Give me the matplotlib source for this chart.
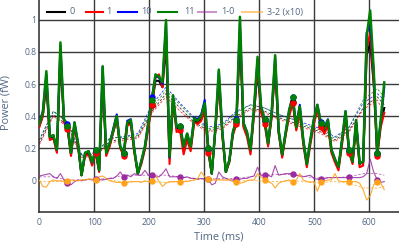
import numpy as np
import matplotlib
matplotlib.use("Agg")
import matplotlib.pyplot as plt
import matplotlib.lines as mlines

plt.rcParams['font.family'] = ['Open Sans', 'DejaVu Sans']

dt_ms = 6.4
marker_every = 8

green = [0.35,0.42,0.68,0.27,0.28,0.19,0.86,0.38,0.34,0.17,
         0.36,0.23,0.03,0.17,0.18,0.11,0.19,0.06,0.71,0.17,
         0.23,0.31,0.40,0.21,0.17,0.36,0.375,0.19,0.04,0.12,
         0.21,0.36,0.50,0.66,0.645,0.61,1.00,0.146,0.53,0.33,
         0.34,0.21,0.29,0.21,0.385,0.37,0.40,0.48,0.20,0.04,
         0.32,0.69,0.30,0.05,0.125,0.30,0.375,1.02,0.355,0.30,
         0.19,0.45,0.77,0.46,0.38,0.23,0.42,0.78,0.31,0.16,
         0.30,0.44,0.52,0.33,0.46,0.25,0.10,0.25,0.38,0.47,
         0.355,0.32,0.375,0.19,0.13,0.083,0.25,0.43,0.19,0.115,
         0.375,0.105,0.115,0.90,1.06,0.69,0.17,0.375,0.61]

red = [0.33,0.40,0.63,0.25,0.26,0.17,0.80,0.36,0.32,0.15,
       0.34,0.21,0.03,0.15,0.16,0.09,0.17,0.05,0.66,0.15,
       0.21,0.30,0.38,0.20,0.15,0.34,0.35,0.17,0.04,0.10,
       0.19,0.33,0.47,0.64,0.66,0.58,0.92,0.10,0.49,0.30,
       0.31,0.16,0.25,0.18,0.36,0.35,0.37,0.44,0.17,0.04,
       0.30,0.63,0.27,0.05,0.11,0.28,0.35,0.92,0.33,0.27,
       0.16,0.41,0.71,0.42,0.35,0.21,0.39,0.72,0.29,0.14,
       0.28,0.40,0.48,0.31,0.42,0.22,0.08,0.22,0.35,0.44,
       0.33,0.29,0.34,0.17,0.11,0.06,0.22,0.40,0.17,0.10,
       0.34,0.08,0.09,0.82,0.92,0.62,0.15,0.33,0.42]

black = [0.34,0.40,0.60,0.26,0.27,0.18,0.76,0.37,0.33,0.16,
         0.35,0.22,0.03,0.16,0.17,0.10,0.18,0.06,0.62,0.16,
         0.22,0.30,0.38,0.20,0.16,0.35,0.36,0.18,0.04,0.11,
         0.20,0.34,0.47,0.62,0.62,0.58,0.86,0.14,0.50,0.32,
         0.33,0.20,0.28,0.20,0.37,0.36,0.38,0.44,0.19,0.04,
         0.31,0.62,0.29,0.05,0.12,0.29,0.36,0.88,0.34,0.29,
         0.18,0.42,0.68,0.44,0.37,0.22,0.40,0.70,0.30,0.15,
         0.29,0.42,0.49,0.32,0.43,0.24,0.10,0.24,0.36,0.45,
         0.34,0.31,0.36,0.18,0.12,0.08,0.24,0.41,0.18,0.11,
         0.36,0.10,0.11,0.78,0.86,0.60,0.16,0.35,0.45]

blue = [0.36,0.43,0.66,0.27,0.28,0.19,0.84,0.38,0.35,0.17,
        0.36,0.23,0.03,0.17,0.18,0.11,0.19,0.06,0.71,0.17,
        0.23,0.32,0.41,0.21,0.17,0.37,0.38,0.19,0.04,0.12,
        0.21,0.37,0.52,0.65,0.64,0.60,0.98,0.14,0.52,0.33,
        0.34,0.21,0.29,0.21,0.39,0.38,0.41,0.50,0.20,0.04,
        0.32,0.68,0.30,0.05,0.125,0.30,0.38,0.98,0.36,0.30,
        0.19,0.45,0.75,0.46,0.38,0.23,0.42,0.77,0.31,0.16,
        0.30,0.44,0.52,0.34,0.47,0.25,0.10,0.25,0.38,0.47,
        0.36,0.33,0.38,0.19,0.13,0.083,0.25,0.43,0.19,0.115,
        0.37,0.105,0.115,0.92,0.97,0.68,0.17,0.37,0.58]

diff_10 = [0.025,0.03,0.035,0.04,0.02,0.01,0.04,0.0,-0.02,-0.03,
           -0.01,0.0,-0.005,0.0,0.005,0.0,0.005,0.003,0.0,0.005,
           0.01,0.01,0.025,0.05,0.02,0.03,0.02,0.04,0.03,0.03,
           0.06,0.03,0.03,0.02,0.02,0.04,0.07,0.02,0.02,0.02,
           0.02,0.015,0.02,0.01,0.01,0.005,0.01,0.005,0.005,-0.03,
           -0.02,0.05,0.02,0.01,0.0,0.0,0.005,0.005,0.01,0.01,
           0.02,0.025,0.08,0.03,0.03,0.03,0.02,0.09,0.03,0.035,
           0.04,0.04,0.04,0.03,0.025,0.02,0.025,0.03,0.01,0.005,
           0.005,0.01,0.015,0.015,0.015,0.015,0.015,0.015,0.02,0.015,
           0.015,0.015,0.02,0.04,0.13,0.05,0.0,-0.015,-0.01]

diff_32_x10 = [0.0,-0.04,-0.045,-0.01,0.0,-0.005,-0.005,-0.01,-0.005,0.0,
               -0.005,-0.005,0.0,0.0,0.005,0.005,0.0,0.02,0.025,0.01,
               -0.005,-0.01,-0.015,-0.015,-0.02,-0.015,-0.01,-0.01,-0.01,-0.015,
               -0.005,-0.01,-0.005,0.03,-0.01,-0.04,-0.02,-0.01,-0.01,-0.01,
               -0.01,-0.01,-0.01,-0.005,0.0,0.01,0.05,0.02,0.005,0.0,
               0.0,0.0,0.0,0.0,0.005,-0.01,-0.01,-0.02,-0.015,-0.005,
               0.0,0.0,0.04,0.02,0.0,-0.01,-0.02,-0.05,-0.02,-0.01,
               -0.005,0.0,-0.01,0.0,0.04,0.0,-0.01,-0.015,-0.01,-0.07,
               -0.01,-0.005,0.0,0.0,0.04,-0.005,-0.01,-0.01,-0.01,-0.01,
               -0.01,-0.02,-0.06,-0.125,-0.1,-0.03,-0.01,-0.02,-0.06]

# smoothed trends, read every 4 samples
trend_step = 4
trend_green = [0.25,0.43,0.36,0.16,0.17,0.26,0.27,0.28,0.45,0.56,0.47,0.38,0.32,
               0.34,0.42,0.47,0.45,0.41,0.38,0.34,0.31,0.26,0.33,0.50,0.57,0.52]
trend_blue = [0.25,0.43,0.36,0.16,0.17,0.26,0.27,0.29,0.47,0.58,0.48,0.39,0.33,
              0.35,0.43,0.47,0.45,0.41,0.38,0.35,0.32,0.27,0.33,0.48,0.54,0.50]
trend_black = [0.23,0.41,0.34,0.15,0.16,0.24,0.26,0.27,0.43,0.54,0.45,0.36,0.31,
               0.33,0.40,0.45,0.43,0.39,0.36,0.33,0.30,0.25,0.31,0.45,0.52,0.47]
trend_red = [0.22,0.40,0.33,0.14,0.15,0.23,0.25,0.26,0.42,0.52,0.43,0.35,0.30,
             0.32,0.39,0.44,0.42,0.38,0.35,0.32,0.29,0.24,0.30,0.44,0.50,0.42]
trend_10 = [0.02,0.02,0.0,0.0,0.005,0.01,0.03,0.03,0.03,0.03,0.02,0.01,0.005,
            0.01,0.01,0.02,0.03,0.035,0.035,0.02,0.01,0.015,0.02,0.04,0.04,0.03]
trend_32 = [-0.01,-0.01,-0.005,0.0,0.01,0.0,-0.015,-0.01,-0.01,-0.015,-0.01,0.0,0.01,
            0.0,-0.01,0.0,-0.01,-0.01,-0.005,-0.01,-0.015,-0.01,-0.02,-0.05,-0.05,-0.04]

legend_labels = ['0', '1', '10', '11', '1-0', '3-2 (x10)']
x_ticks = [0, 100, 200, 300, 400, 500, 600]
y_ticks = [0, 0.2, 0.4, 0.6, 0.8, 1]
y_ticklabels = ['0', '0.2', '0.4', '0.6', '0.8', '1']

n = len(green)
t = np.arange(n) * dt_ms
tt = np.append(t[::trend_step], t[-1])
mk = slice(marker_every, None, marker_every)

W, H = 399, 243
fig = plt.figure(figsize=(W/100, H/100), dpi=100)
x0, x1, ytop, ybot = 39.3, 399, 0, 212
ax = fig.add_axes([x0/W, (H-ybot)/H, (x1-x0)/W, (ybot-ytop)/H])
ax.set_xlim(0, (x1-x0)/0.55)
ax.set_ylim(-0.2, 1.125)

gridc = '#3a3a3a'
for xv in x_ticks[1:]:
    ax.axvline(xv, color=gridc, lw=1.0, zorder=0)
for yv in y_ticks[1:]:
    ax.axhline(yv, color=gridc, lw=1.0, zorder=0)

PURPLE = '#9a2ba0'
ORANGE = '#ffa21a'
DASH = (0, (3, 2))

for tr, c in [(trend_black, 'black'), (trend_red, 'red'), (trend_blue, 'blue'), (trend_green, 'green')]:
    ax.plot(tt, tr, color=c, lw=0.6, ls=DASH, alpha=0.8, zorder=2)
ax.plot(tt, trend_10, color=PURPLE, lw=0.6, ls=DASH, alpha=0.7, zorder=2)
ax.plot(tt, trend_32, color=ORANGE, lw=0.6, ls=DASH, alpha=0.8, zorder=2)

for ys, c, lw in [(black, 'black', 1.5), (red, 'red', 1.5), (blue, 'blue', 1.5), (green, 'green', 1.8)]:
    ax.plot(t, ys, color=c, lw=lw, zorder=3, solid_joinstyle='round')
    ax.plot(t[mk], np.asarray(ys)[mk], 'o', color=c, ms=3.6, zorder=4)
ax.plot(t, diff_10, color=PURPLE, lw=0.8, alpha=0.85, zorder=3)
ax.plot(t[mk], np.asarray(diff_10)[mk], 'o', color=PURPLE, ms=3.6, zorder=4)
ax.plot(t, diff_32_x10, color=ORANGE, lw=0.8, alpha=0.9, zorder=3)
ax.plot(t[mk], np.asarray(diff_32_x10)[mk], 'o', color=ORANGE, ms=3.6, zorder=4)

for s in ['top', 'right']:
    ax.spines[s].set_visible(False)
for s in ['left', 'bottom']:
    ax.spines[s].set_color('#2a2a2a')
    ax.spines[s].set_linewidth(1.1)

tc = '#506784'
ax.set_xticks(x_ticks)
ax.set_yticks(y_ticks)
ax.set_yticklabels(y_ticklabels)
ax.tick_params(axis='both', length=0, labelsize=6.2, labelcolor=tc)
ax.tick_params(axis='x', pad=4.5)
ax.tick_params(axis='y', pad=2)

fig.text(219/W, 1 - 237/H, 'Time (ms)', ha='center', va='center', fontsize=7.8, color=tc)
fig.text(6/W, 1 - 103/H, 'Power (fW)', ha='center', va='center', fontsize=7.8, color=tc, rotation=90)

# legend drawn item by item (horizontal, plotly-like)
leg_y = 1 - 12/H
leg_items = [('black', 1.0, 47, 65, 70), ('red', 1.0, 86, 103, 106),
             ('blue', 1.0, 118, 137, 141), ('green', 1.0, 158, 177, 184),
             (PURPLE, 0.5, 198, 216, 221), (ORANGE, 0.55, 242, 262, 267)]
for (c, a, xa, xb, xt), lab in zip(leg_items, legend_labels):
    fig.add_artist(mlines.Line2D([xa/W, xb/W], [leg_y, leg_y], color=c, lw=1.5, alpha=a))
    fig.text(xt/W, leg_y, lab, ha='left', va='center', fontsize=6.5, color=tc)

fig.savefig('out.png', dpi=100)
